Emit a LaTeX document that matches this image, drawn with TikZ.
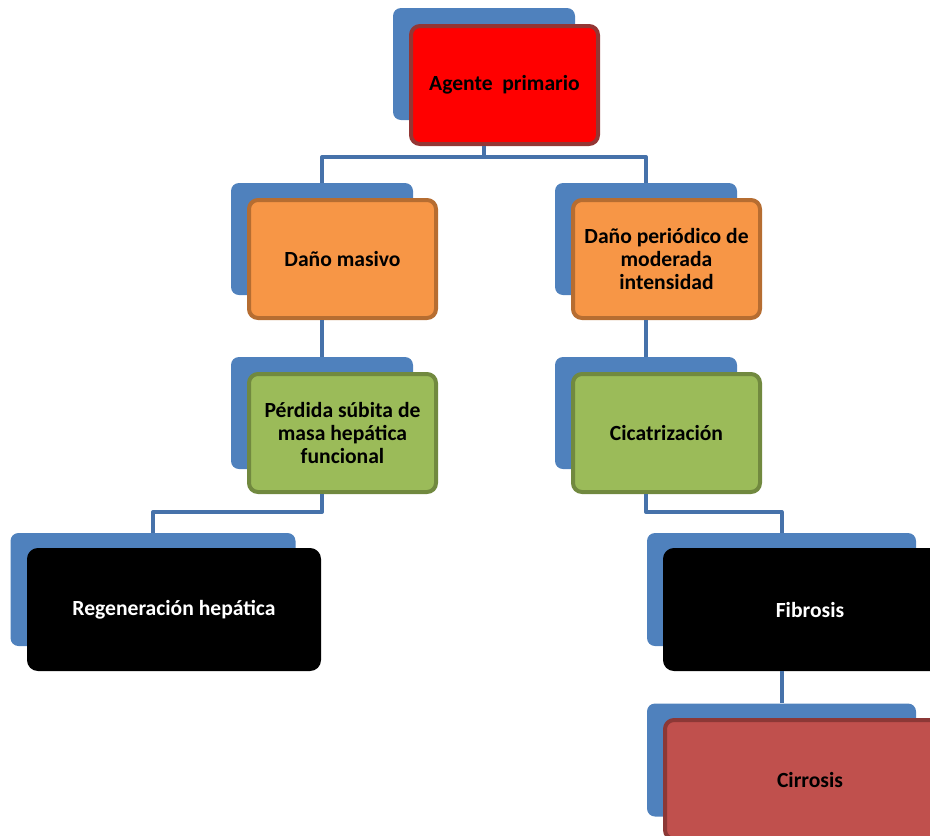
\documentclass[tikz,border=0pt]{standalone}
\usepackage{fontspec}
\setmainfont{Carlito}
\definecolor{back}{HTML}{4F81BD}
\definecolor{link}{HTML}{4672AA}
\definecolor{redin}{HTML}{FF0000}
\definecolor{redout}{HTML}{943634}
\definecolor{orin}{HTML}{F79646}
\definecolor{orout}{HTML}{B66D31}
\definecolor{grin}{HTML}{9BBB59}
\definecolor{grout}{HTML}{71893F}
\definecolor{brin}{HTML}{C0504D}
\definecolor{brout}{HTML}{8C3836}

\begin{document}
\begin{tikzpicture}[x=1pt,y=-1pt,line join=round,
    back/.style={fill=back,rounded corners=8pt,inner sep=0pt,
      minimum width=182pt,minimum height=112pt},
    wide/.style={minimum width=#1,minimum height=113pt},
    box/.style={rounded corners=9pt,line width=4pt,inner sep=2pt,align=center,
      minimum width=187pt,minimum height=118pt,
      font=\fontsize{21.6}{23}\selectfont\bfseries},
    widebox/.style={box,minimum width=290pt,minimum height=119pt},
    link/.style={draw=link,line width=4pt}]
    \useasboundingbox (0,0) rectangle (930,836);
    \clip (0,0) rectangle (930,836);
    \node[back] (A') at (484,64) {};
    \node[back] (B') at (322,239) {};
    \node[back] (C') at (646,239) {};
    \node[back] (D') at (322,413) {};
    \node[back] (E') at (646,413) {};
    \node[back,wide=285pt] (F') at (153,589.5) {};
    \node[back,wide=269pt] (G') at (781.5,589.5) {};
    \node[back,wide=269pt] (H') at (781.5,760) {};
    \node[box,fill=redin,draw=redout] (A) at (504.5,85) {Agente~ primario};
    \node[box,fill=orin,draw=orout] (B) at (342.5,259) {Daño masivo};
    \node[box,fill=orin,draw=orout] (C) at (666.5,259) {Daño periódico de\\moderada\\intensidad};
    \node[box,fill=grin,draw=grout] (D) at (342.5,433) {Pérdida súbita de\\masa hepática\\funcional};
    \node[box,fill=grin,draw=grout] (E) at (666.5,433) {Cicatrización};
    \node[widebox,fill=black,draw=black,text=white] (F) at (174,609.5) {Regeneración hepática};
    \node[widebox,fill=black,draw=black,text=white] (G) at (810,609.5) {Fibrosis};
    \node[widebox,fill=brin,draw=brout] (H) at (810,779.5) {Cirrosis};
    \draw[link] (A' |- A.south) -- ++(0,11) coordinate (a) -| (B'.north);
    \draw[link] (a) -| (C'.north);
    \draw[link] (B' |- B.south) -- (D'.north);
    \draw[link] (C' |- C.south) -- (E'.north);
    \draw[link] (D' |- D.south) -- ++(0,18) -| (F'.north);
    \draw[link] (E' |- E.south) -- ++(0,18) -| (G'.north);
    \draw[link] (G' |- G.south) -- (H'.north);
\end{tikzpicture}
\end{document}
